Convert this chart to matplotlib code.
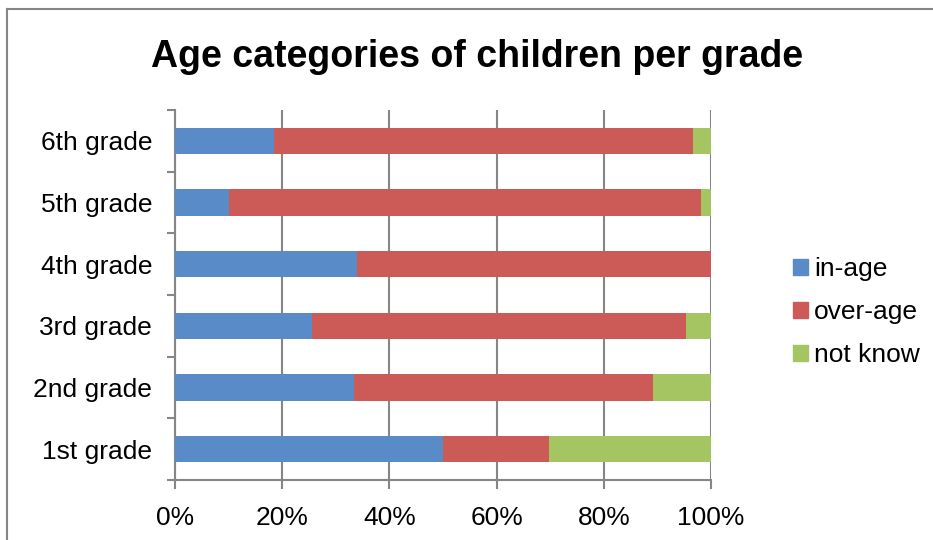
import numpy as np
import matplotlib.pyplot as plt
from matplotlib.lines import Line2D

plt.rcParams['font.family'] = ['Liberation Sans', 'DejaVu Sans']

grades = ['1st grade', '2nd grade', '3rd grade', '4th grade', '5th grade', '6th grade']
in_age = [50.0, 33.4, 25.5, 33.9, 10.1, 18.5]
over_age = [19.7, 55.8, 69.9, 66.1, 88.1, 78.1]
not_know = [30.3, 10.8, 4.6, 0.0, 1.8, 3.4]
series_names = ['in-age', 'over-age', 'not know']
colors = ['#598BC8', '#CC5B57', '#A5C462']

W, H = 933, 540
fig = plt.figure(figsize=(W / 100, H / 100), dpi=100)
ax = fig.add_axes([175 / W, 1 - 480 / H, (711 - 175) / W, (480 - 110) / H])

y = np.arange(len(grades))
left = np.zeros(len(grades))
for vals, name, c in zip([in_age, over_age, not_know], series_names, colors):
    ax.barh(y, vals, left=left, height=0.43, color=c, label=name, zorder=3)
    left += np.array(vals)

ax.set_xlim(0, 100)
ax.set_ylim(-0.5, len(grades) - 0.5)
ax.set_xticks(np.arange(0, 101, 20))
ax.set_xticklabels([f'{v}%' for v in range(0, 101, 20)])
ax.set_yticks(y)
ax.set_yticklabels(grades)
ax.set_yticks(np.arange(-0.5, len(grades), 1), minor=True)

grid_c = '#868686'
ax.grid(axis='x', color=grid_c, linewidth=1.5, zorder=0)
for s in ['top', 'right']:
    ax.spines[s].set_visible(False)
for s in ['left', 'bottom']:
    ax.spines[s].set_color(grid_c)
    ax.spines[s].set_linewidth(1.5)
ax.tick_params(axis='y', which='major', length=0, labelsize=19, pad=16.5)
ax.tick_params(axis='y', which='minor', length=6, width=1.5, color=grid_c)
ax.tick_params(axis='x', length=6.5, width=1.5, color=grid_c, labelsize=19, pad=12)

fig.text(477 / W, 1 - 57 / H, 'Age categories of children per grade',
         ha='center', va='center', fontsize=27, fontweight='bold')

handles = [plt.Rectangle((0, 0), 1, 1, color=c) for c in colors]
fig.legend(handles, series_names, loc='center left', bbox_to_anchor=(793 / W, 1 - 312 / H),
           frameon=False, fontsize=19, handlelength=0.55, handleheight=0.55,
           handletextpad=0.25, labelspacing=0.72, borderpad=0, borderaxespad=0)

# outer chart border (left and top only visible in the crop)
fig.add_artist(Line2D([6.5 / W, 6.5 / W], [0, 1 - 9 / H], color=grid_c, linewidth=1.5))
fig.add_artist(Line2D([6.5 / W, 1], [1 - 9 / H, 1 - 9 / H], color=grid_c, linewidth=1.5))

fig.savefig('out.png', dpi=100)
